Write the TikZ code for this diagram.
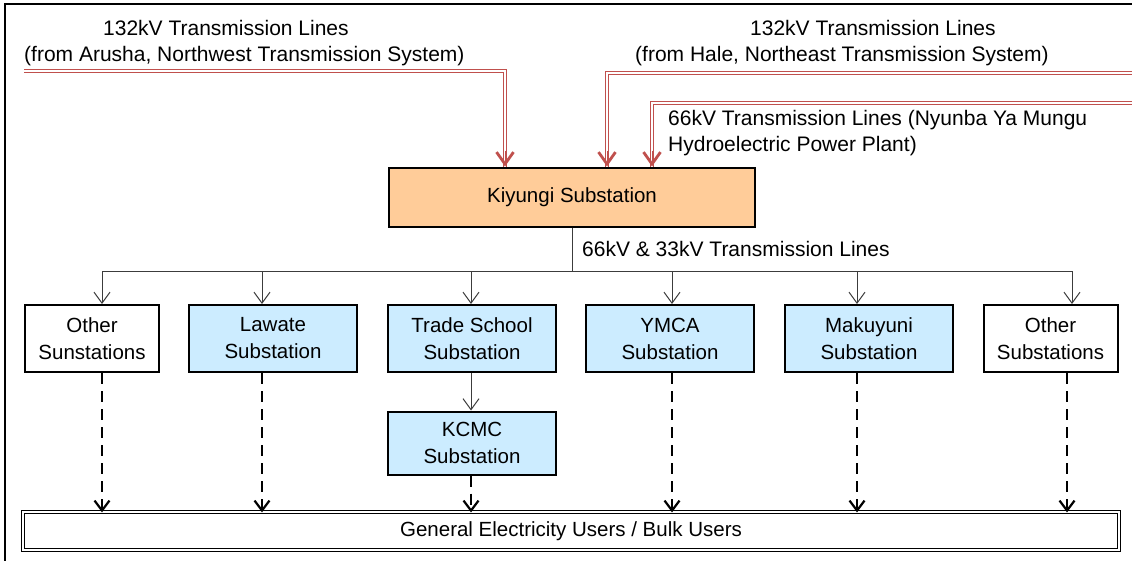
\documentclass[tikz,border=0pt]{standalone}
\usepackage{fontspec}
\setmainfont{Liberation Sans}
\usetikzlibrary{arrows.meta,calc}
\definecolor{kiyfill}{RGB}{255,204,153}
\definecolor{subfill}{RGB}{204,236,255}
\definecolor{redln}{RGB}{192,80,77}
\definecolor{thinln}{RGB}{60,60,60}
\tikzset{
  bx/.style={draw=black, line width=2pt, inner sep=0pt, align=center,
    font=\fontsize{20.5}{27}\selectfont},
  subbox/.style={bx, fill=subfill, minimum width=168pt, minimum height=67pt},
  plainbox/.style={bx, fill=white, minimum height=67pt},
  lbl/.style={inner sep=0pt, font=\fontsize{21}{27}\selectfont},
  redline/.style={draw=redln, line width=1pt, double=white, double distance=1.6pt},
  redtip/.style={draw=redln, -{Straight Barb[length=12pt,width=17pt,line width=2.8pt]}},
  thinarrow/.style={draw=thinln, line width=1pt, -{Straight Barb[length=11pt,width=16pt,line width=1pt]}},
  thinline/.style={draw=thinln, line width=1pt},
  dasharrow/.style={draw=black, line width=2.6pt, dash pattern=on 11pt off 7pt,
    -{Straight Barb[length=10pt,width=15pt,line width=2.2pt]}}
}
\begin{document}
\begin{tikzpicture}[x=1pt,y=-1pt]
\useasboundingbox[fill=white] (0,0) rectangle (1132,560);
% outer frame (cropped)
\draw[line width=2.5pt] (5,600) -- (5,4) -- (1200,4);

% main substation
\node[bx, fill=kiyfill, minimum width=366pt, minimum height=59pt] (kiy) at (572,197) {Kiyungi Substation};

% top annotations
\node[lbl, anchor=base west] (tl1) at (103,35) {132kV Transmission Lines};
\node[lbl, anchor=base west] (tl2) at (24,61) {(from Arusha, Northwest Transmission System)};
\node[lbl, anchor=base west] (tr1) at (750,35) {132kV Transmission Lines};
\node[lbl, anchor=base west] (tr2) at (635,61) {(from Hale, Northeast Transmission System)};
\node[lbl, anchor=base west] (t661) at (668,125) {66kV Transmission Lines (Nyunba Ya Mungu};
\node[lbl, anchor=base west] (t662) at (668,151) {Hydroelectric Power Plant)};

% red incoming lines
\coordinate (srcA) at (24,71);
\coordinate (srcB) at (1140,73);
\coordinate (srcC) at (1140,103);
\coordinate (xa) at (505,0);
\coordinate (xb) at (607,0);
\coordinate (xc) at (652,0);
\draw[redline] (srcA) -| (kiy.north -| xa);
\draw[redline] (srcB) -| (kiy.north -| xb);
\draw[redline] (srcC) -| (kiy.north -| xc);
\draw[redtip] ($(kiy.north -| xa)+(0,-16)$) -- (kiy.north -| xa);
\draw[redtip] ($(kiy.north -| xb)+(0,-16)$) -- (kiy.north -| xb);
\draw[redtip] ($(kiy.north -| xc)+(0,-16)$) -- (kiy.north -| xc);

% substations
\node[plainbox, minimum width=134pt] (o1) at (92,338.5) {Other\\Sunstations};
\node[subbox] (law) at (273,338.5) {Lawate\\Substation};
\node[subbox] (trade) at (472,338.5) {Trade School\\Substation};
\node[subbox] (ymca) at (670,338.5) {YMCA\\Substation};
\node[subbox] (mak) at (869,338.5) {Makuyuni\\Substation};
\node[plainbox, minimum width=134pt] (o2) at (1050.5,338.5) {Other\\Substations};
\node[subbox, minimum height=63pt] (kcmc) at (472,443) {KCMC\\Substation};

% users bar
\node[draw=black, line width=1.2pt, double=white, double distance=1.8pt, fill=white,
  minimum width=1096pt, minimum height=38pt, inner sep=0pt,
  font=\fontsize{20.5}{27}\selectfont] (users) at (571,531) {General Electricity Users / Bulk Users};

% bus
\coordinate (d1) at (102,271);
\coordinate (d2) at (262,271);
\coordinate (d3) at (471,271);
\coordinate (d4) at (672,271);
\coordinate (d5) at (857,271);
\coordinate (d6) at (1072,271);
\draw[thinline] (kiy.south) -- (kiy.south |- d1);
\draw[thinline] (d1) -- (d6);
\node[lbl, anchor=base west] (buslbl) at (582,256) {66kV \& 33kV Transmission Lines};
\draw[thinarrow] (d1) -- (o1.north -| d1);
\draw[thinarrow] (d2) -- (law.north -| d2);
\draw[thinarrow] (d3) -- (trade.north -| d3);
\draw[thinarrow] (d4) -- (ymca.north -| d4);
\draw[thinarrow] (d5) -- (mak.north -| d5);
\draw[thinarrow] (d6) -- (o2.north -| d6);
\draw[thinarrow] (trade.south -| d3) -- (kcmc.north -| d3);

% dashed supply arrows
\coordinate (e6) at (1067,0);
\draw[dasharrow] (o1.south -| d1) -- ([yshift=-1pt]users.north -| d1);
\draw[dasharrow] (law.south -| d2) -- ([yshift=-1pt]users.north -| d2);
\draw[dasharrow] (kcmc.south -| d3) -- ([yshift=-1pt]users.north -| d3);
\draw[dasharrow] (ymca.south -| d4) -- ([yshift=-1pt]users.north -| d4);
\draw[dasharrow] (mak.south -| d5) -- ([yshift=-1pt]users.north -| d5);
\draw[dasharrow] (o2.south -| e6) -- ([yshift=-1pt]users.north -| e6);
\end{tikzpicture}
\end{document}
